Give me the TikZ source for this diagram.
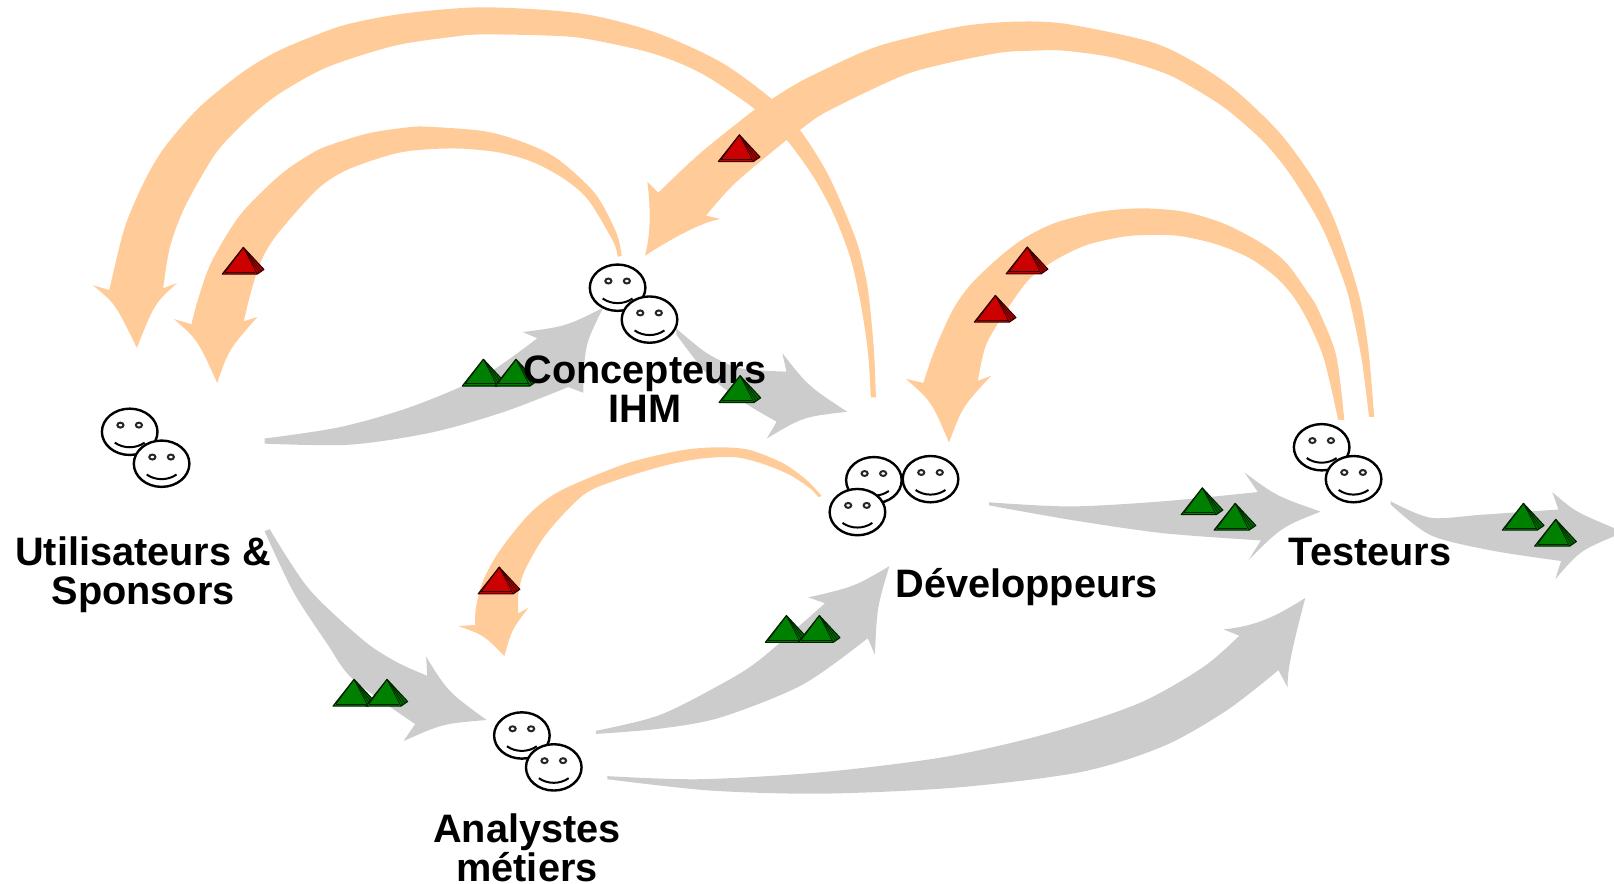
\documentclass[tikz,border=0pt]{standalone}
\usepackage{fontspec}
\setmainfont{Liberation Sans}
\usetikzlibrary{shapes.geometric}
\definecolor{flowgray}{RGB}{204,204,204}
\definecolor{floworange}{RGB}{255,204,153}
\definecolor{pgreen}{RGB}{0,128,0}
\definecolor{pgreendk}{RGB}{0,115,0}
\definecolor{pred}{RGB}{204,0,0}
\definecolor{preddk}{RGB}{185,0,0}
\newlength{\unitf}\setlength{\unitf}{0.5147pt}
\tikzset{
  grayflow/.style={fill=flowgray},
  orangeflow/.style={fill=floworange},
  sm/.style={smooth,tension=.5},
  face/.style={ellipse,draw=black,fill=white,line width=1.2pt,minimum width=54\unitf,minimum height=45\unitf,inner sep=0pt},
  role/.style={inner sep=0pt,align=center,font=\fontsize{19.85pt}{19.5pt}\selectfont\bfseries}
}
\newcommand{\smiley}[3]{%
  \node[face] (#1) at (#2,#3) {};
  \begin{scope}[shift={(#1.center)},line width=1pt]
    \draw[draw=black!85] (-9,-6.5) ellipse (3 and 2.4);
    \draw[draw=black!85] (9,-6.5) ellipse (3 and 2.4);
    \draw (-14.5,10.5) .. controls (-6,16.5) and (6,16.5) .. (14.5,10.5);
  \end{scope}}
\newcommand{\pyr}[4]{% name, x, y, colour stem
  \coordinate (#1) at (#2,#3);
  \begin{scope}[shift={(#1)},line width=.35pt,draw=black!75!#4,line join=round]
    \fill[#4dk] (0,0) -- (13.5,26) -- (20,21.5) -- cycle;
    \fill[#4] (0,0) -- (-20.5,26) -- (13.5,26) -- cycle;
    \draw[line width=.55pt] (0,0) -- (-20.5,26) -- (13.5,26) -- (20,21.5) -- cycle;
    \draw (0,0) -- (13.5,26);
    \draw (0,0) -- (15.5,24.5);
    \draw (0,0) -- (17.5,23);
    \draw (-17.5,23.8) -- (11.8,23.8);
    \draw (0,0) -- (-17.5,23.8);
  \end{scope}}
\begin{document}
\begin{tikzpicture}[x=0.5147pt,y=-0.5147pt]
\useasboundingbox (0,0) rectangle (1568,858);
% orange arrows
\fill[orangeflow] plot[sm] coordinates {(851,386) (849,340) (844.5,291.5) (840.3,265.5) (830.6,229.9) (804.7,170) (777.2,126.3) (749.7,96.2) (699.5,59.9) (634.7,30.8) (563.5,13) (469.6,7.1) (393.5,13) (338.4,23.3) (304.4,35) (268.8,50.2) (236.4,69.6) (194.3,103.6) (160.3,142.5) (140.9,174.9) (121.4,220.2) (106.9,278.5) (107,282)}
  -- (90,277) .. controls (112,295) .. (133,338) .. controls (150,295) .. (172,275) -- (158.5,280)
  -- plot[sm] coordinates {(158.5,280) (165.2,239.6) (179.7,200.8) (207.3,152.2) (228.3,127.9) (252.6,105.2) (276.9,87.4) (319,64.8) (382.1,44.7) (435.5,36.3) (469.6,33.4) (544,35) (576.4,38.9) (628.2,50.2) (660.6,61.5) (689.7,76.1) (733.5,106.2) (764.2,136) (790.1,171.6) (809.5,207.3) (825.8,249.4) (835.5,291.5) (843,340) (846,386)} -- cycle;
\fill[orangeflow] plot[sm] coordinates {(603.9,248.7) (599,226.7) (578,187.8) (540.8,153.8) (506.8,137.6) (469.6,127.3) (412.9,123) (393.5,124) (357.8,129.5) (320.6,140.9) (302.8,149) (272,170) (233.2,208.9) (205.6,254.2) (192.7,289.8) (186,315)}
  -- (169,310) .. controls (192,330) .. (211,372) .. controls (222,340) .. (250,308) -- (237,312)
  -- plot[sm] coordinates {(237,312) (242.2,289.8) (252.6,255.8) (268.8,228.3) (307.6,184.6) (336.8,165.2) (382.1,149.6) (414.5,145.1) (448.5,144.4) (484.1,148) (516.5,157) (547.3,173.3) (571.5,194.3) (595.8,234.8) (600,249.4)} -- cycle;
\fill[orangeflow] plot[sm] coordinates {(1335,405) (1330,345) (1323.6,301.1) (1314.8,267.2) (1297,215.3) (1277.6,176.5) (1243.6,129.5) (1199.9,87.4) (1159.4,59.9) (1117.3,40.5) (1036.3,23.3) (987.7,21) (935.9,25.2) (874.4,38.8) (838.7,50.2) (780.4,77.7) (749.7,96.2) (733.5,106.2) (680,149) (639.5,187.2)}
  -- (628.9,176.5) .. controls (633,210) and (631,232) .. (626.6,248.4) .. controls (660,227) and (685,215) .. (700,212.8) -- (685.9,209.5)
  -- plot[sm] coordinates {(685.9,209.5) (714,178) (764.2,136) (777.2,126.3) (803.1,108.5) (874.4,74.5) (916.5,62.2) (971.5,51.2) (1003.9,49.2) (1033.1,49.2) (1081.7,56) (1133.5,71.9) (1172.3,93.3) (1196.6,110.1) (1229,139.2) (1254.9,171.6) (1284,220.2) (1305.1,272) (1313.2,301.1) (1323,350) (1330,405)} -- cycle;
\fill[orangeflow] plot[sm] coordinates {(1306,408) (1298,345) (1280.8,301.1) (1271.1,285) (1250,255.8) (1225.8,236.4) (1188.5,217) (1149.7,205.6) (1109.2,202.4) (1068.7,205.6) (1026.6,216) (997.5,229.9) (973.2,247.7) (944,275.2) (925.6,301.1) (908,340) (897,372)}
  -- (880,368) .. controls (905,390) .. (922,430) .. controls (935,395) .. (963,365) -- (950,370)
  -- plot[sm] coordinates {(950,370) (958,335) (978,301.1) (1000.7,270.4) (1026.6,251.9) (1055.7,238) (1091.4,229.9) (1117.3,228.3) (1146.4,229.3) (1182,237.4) (1214.4,251) (1241.9,271.4) (1263,298) (1285,345) (1300,408)} -- cycle;
\fill[orangeflow] plot[sm] coordinates {(798.3,481.9) (783.7,466.4) (761,450.2) (728.6,437.2) (699.5,434.6) (663.9,437.2) (608.8,450.2) (545.7,476.1) (514.9,498.7) (485.8,534.4) (469.6,563.5) (462.5,589.4) (461.5,607.2)}
  -- (445.3,608.2) .. controls (470,617) .. (490,637.3) .. controls (497,612) .. (513.6,590.1) -- (503.6,595.9)
  -- plot[sm] coordinates {(503.6,595.9) (503.6,576.5) (510,553.8) (531.1,518.2) (566.7,480.9) (599.1,466.4) (647.7,451.8) (683.3,445.3) (715,444.3) (741.6,450.8) (767.5,461.5) (787,474.5) (795,483)} -- cycle;
% gray arrows
\fill[grayflow] plot[sm] coordinates {(257,426) (330,415) (400,395) (470,365) (522,328.6)}
  -- (508,322.6) .. controls (550,317) .. (586,299) .. controls (568,335) .. (566.6,381.6) -- (552,376)
  -- plot[sm] coordinates {(552,376) (490,400) (420,420) (340,432) (257,431)} -- cycle;
\fill[grayflow] plot[sm] coordinates {(657,319) (686.6,343) (719,357.7) (764,361)}
  -- (760,343) .. controls (785,375) .. (823,400) .. controls (780,405) .. (745,426) -- (754.5,409.7)
  -- plot[sm] coordinates {(754.5,409.7) (719,388.6) (686.6,362.7) (657,325)} -- cycle;
\fill[grayflow] plot[sm] coordinates {(579,710) (640,695) (700,665) (738,641) (801.5,586)}
  -- (785.3,580.4) .. controls (830,570) .. (864,550) .. controls (852,590) .. (850,636) -- (843,620)
  -- plot[sm] coordinates {(843,620) (780,665) (700,697) (640,708) (579,713)} -- cycle;
\fill[grayflow] plot[sm] coordinates {(590,754) (680,757) (800,750) (920,735) (1020,712) (1107,683) (1169,648) (1204,617.6)}
  -- (1188.5,611.4) .. controls (1225,608) and (1245,595) .. (1268,581) .. controls (1258,620) and (1250,650) .. (1251,668) -- (1242,651)
  -- plot[sm] coordinates {(1242,651) (1192,690) (1130,725) (1050,750) (930,765) (800,771) (690,768) (590,757)} -- cycle;
\fill[grayflow] plot[sm] coordinates {(961,488) (1040,492) (1130,487) (1222,478)}
  -- (1209,459) .. controls (1240,482) .. (1283,497) .. controls (1245,512) .. (1213,544) -- (1225,525)
  -- plot[sm] coordinates {(1225,525) (1130,518) (1040,505) (961,491)} -- cycle;
\fill[grayflow] plot[sm] coordinates {(1351,487) (1390,503) (1440,500) (1514,495)}
  -- (1508,478) .. controls (1530,497) .. (1568,513) -- (1568,521) .. controls (1535,535) .. (1511,562.6) -- (1516.6,545)
  -- plot[sm] coordinates {(1516.6,545) (1450,535) (1390,520) (1351,490)} -- cycle;
\fill[grayflow] plot[sm] coordinates {(262,514) (300,572) (353,622) (385,643) (415,656.5)}
  -- (414,638) .. controls (435,672) .. (472.8,699.5) .. controls (430,703) .. (392,720) -- (403.3,703.4)
  -- plot[sm] coordinates {(403.3,703.4) (343,660) (317.6,625) (285,575) (257,516)} -- cycle;
% faces
\smiley{ua}{126}{419.5}
\smiley{ub}{157}{450.5}
\smiley{ca}{600}{279.5}
\smiley{cb}{631}{310.5}
\smiley{da}{849}{466.5}
\smiley{db}{904}{465.5}
\smiley{dc}{833}{497.5}
\smiley{ta}{1284}{434.5}
\smiley{tb}{1315}{465.5}
\smiley{aa}{507}{714.5}
\smiley{ab}{538}{745.5}
% pyramids under text
\pyr{g1}{469.6}{349}{pgreen}
\pyr{g2}{501.3}{349}{pgreen}
% labels
\node[role] (lu) at (139,558.5) {Utilisateurs \&\\Sponsors};
\node[role] (lc) at (626.5,378.5) {Concepteurs\\IHM};
\node[role] (ld) at (997.5,570) {Développeurs};
\node[role] (lt) at (1331,536) {Testeurs};
\node[role] (la) at (512,823.5) {Analystes\\métiers};
% pyramids above text
\pyr{g3}{719}{365}{pgreen}
\pyr{g4}{344}{660}{pgreen}
\pyr{g5}{376}{660}{pgreen}
\pyr{g6}{764}{598}{pgreen}
\pyr{g7}{796}{598}{pgreen}
\pyr{g8}{1168}{474}{pgreen}
\pyr{g9}{1200}{489}{pgreen}
\pyr{g10}{1480}{489}{pgreen}
\pyr{g11}{1511.4}{504.6}{pgreen}
\pyr{r1}{718.3}{131}{pred}
\pyr{r2}{236.4}{240.3}{pred}
\pyr{r3}{998}{240}{pred}
\pyr{r4}{967}{287}{pred}
\pyr{r5}{485}{551}{pred}
\end{tikzpicture}
\end{document}
